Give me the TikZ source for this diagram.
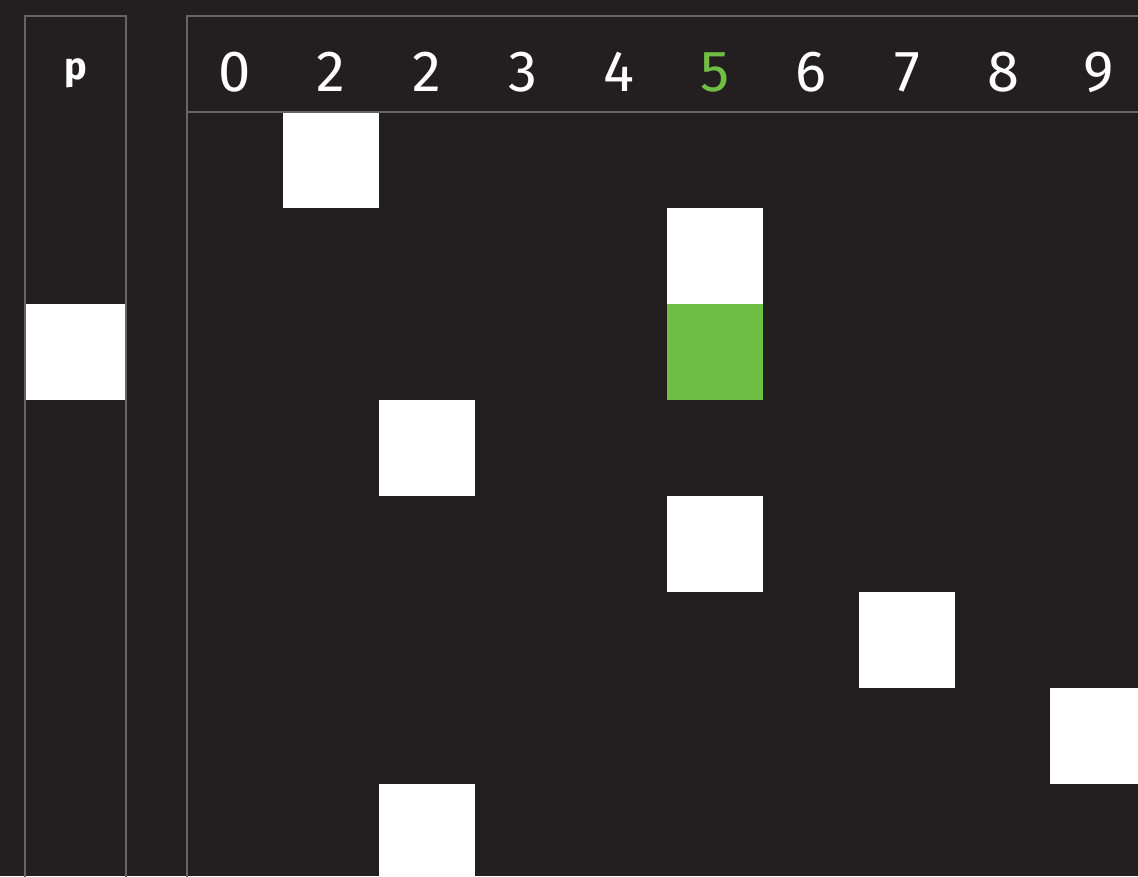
\documentclass[tikz,border=0pt]{standalone}
\usepackage{fontspec}
\setmainfont{Fira Sans}
\definecolor{bg}{HTML}{231F20}
\definecolor{frame}{HTML}{666566}
\definecolor{hl}{HTML}{70BF44}
\begin{document}
\begin{tikzpicture}[x=1pt,y=-1pt,
  panel/.style={draw=frame,line width=2.4pt},
  cell/.style={fill=white},
  hcell/.style={fill=hl},
  digit/.style={text=white,font=\fontsize{58}{58}\selectfont,anchor=base},
  plabel/.style={text=white,font=\bfseries\fontsize{38}{38}\selectfont,anchor=base}]
\fill[bg] (0,0) rectangle (1138,876);
\useasboundingbox (0,0) rectangle (1138,876);
\clip (0,0) rectangle (1138,876);
% left panel
\draw[panel] (25,900) -- (25,16) -- (126,16) -- (126,900);
\node[plabel] (p) at (76,79) {p};
\fill[cell] (26,304) rectangle (125,400);
% right panel
\draw[panel] (187,900) -- (187,16) -- (1160,16);
\draw[panel] (187,112) -- (1160,112);
\foreach \d/\c [count=\i from 0] in {0/white,2/white,2/white,3/white,4/white,5/hl,6/white,7/white,8/white,9/white}{
  \node[digit,text=\c] (h\i) at (235+96*\i,91) {\d};
}
% cells
\fill[cell] (283,113) rectangle (379,208);
\fill[cell] (667,208) rectangle (763,304);
\fill[hcell] (667,304) rectangle (763,400);
\fill[cell] (379,400) rectangle (475,496);
\fill[cell] (667,496) rectangle (763,592);
\fill[cell] (859,592) rectangle (955,688);
\fill[cell] (1050,688) rectangle (1146,784);
\fill[cell] (379,784) rectangle (475,880);
\end{tikzpicture}
\end{document}
